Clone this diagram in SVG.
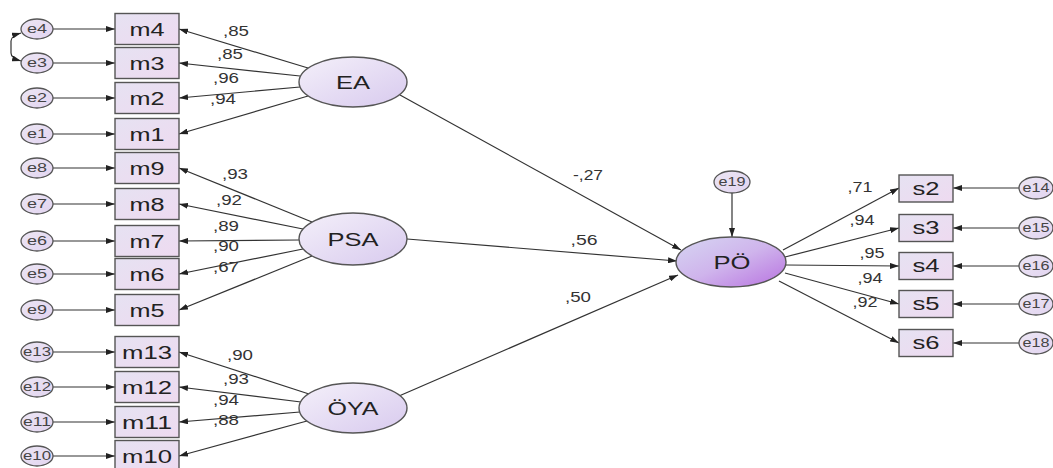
<svg xmlns="http://www.w3.org/2000/svg" width="1053" height="468" viewBox="0 0 1053 468">
<style>
text{font-family:"Liberation Sans",Arial,sans-serif;fill:#222;text-anchor:middle}
.box{fill:url(#gBox);stroke:#555;stroke-width:1.4}
.err{fill:url(#gErr);stroke:#555;stroke-width:1.3}
.lat{fill:url(#gLat);stroke:#555;stroke-width:1.4}
.bl{font-size:18px}
.ll{font-size:18px}
.el{font-size:12px;fill:#444}
.cf{font-size:14px;fill:#333}
.c{stroke:#333;stroke-width:1.2;fill:none;marker-end:url(#ah)}
</style>
<defs>
<linearGradient id="gBox" x1="0" y1="0" x2="1" y2="1"><stop offset="0" stop-color="#e6e2f2"/><stop offset="1" stop-color="#eedaf0"/></linearGradient>
<linearGradient id="gErr" x1="0" y1="0" x2="1" y2="1"><stop offset="0" stop-color="#ece6f4"/><stop offset="1" stop-color="#e2d4f0"/></linearGradient>
<linearGradient id="gLat" x1="0" y1="0" x2="1" y2="1"><stop offset="0" stop-color="#f4f0fa"/><stop offset="1" stop-color="#d8caee"/></linearGradient>
<linearGradient id="gPO" x1="0" y1="0" x2="1" y2="1"><stop offset="0" stop-color="#d6d6f2"/><stop offset="0.5" stop-color="#cfb4ec"/><stop offset="1" stop-color="#b872e0"/></linearGradient>
<marker id="ah" markerUnits="userSpaceOnUse" markerWidth="9" markerHeight="6" refX="9" refY="3" orient="auto-start-reverse"><path d="M0,0 L9,3 L0,6 z" fill="#222"/></marker>
</defs>
<rect width="1053" height="468" fill="#fff"/>

<g id="connectors">
<!-- error to left indicators -->
<path class="c" d="M53,29 H115"/>
<path class="c" d="M53,63 H115"/>
<path class="c" d="M53,98 H115"/>
<path class="c" d="M53,134 H115"/>
<path class="c" d="M53,168 H115"/>
<path class="c" d="M53,204 H115"/>
<path class="c" d="M53,241 H115"/>
<path class="c" d="M53,274 H115"/>
<path class="c" d="M53,310 H115"/>
<path class="c" d="M53,352 H115"/>
<path class="c" d="M53,387 H115"/>
<path class="c" d="M53,422 H115"/>
<path class="c" d="M53,456 H115"/>
<!-- covariance e4-e3 -->
<path d="M21,33 Q11,36 11,41 V53 Q11,58 21,61" stroke="#333" stroke-width="1.2" fill="none" marker-start="url(#ah)" marker-end="url(#ah)"/>
<!-- EA loadings -->
<path class="c" d="M308,68 L179,29"/>
<path class="c" d="M300,76 L179,63"/>
<path class="c" d="M300,87 L179,98"/>
<path class="c" d="M308,96 L179,134"/>
<!-- PSA loadings -->
<path class="c" d="M312,222 L179,168"/>
<path class="c" d="M303,229 L179,204"/>
<path class="c" d="M299,240 L179,241"/>
<path class="c" d="M303,249 L179,274"/>
<path class="c" d="M312,256 L179,310"/>
<!-- OYA loadings -->
<path class="c" d="M309,394 L179,352"/>
<path class="c" d="M301,402 L179,387"/>
<path class="c" d="M300,412 L179,422"/>
<path class="c" d="M307,421 L179,456"/>
<!-- structural -->
<path class="c" d="M400,95 L681,250"/>
<path class="c" d="M407,239 L677,261"/>
<path class="c" d="M399,396 L678,275"/>
<path class="c" d="M732,193 V237"/>
<!-- PO loadings -->
<path class="c" d="M783,250 L899,188"/>
<path class="c" d="M785,257 L899,228"/>
<path class="c" d="M786,265 L899,266"/>
<path class="c" d="M785,273 L899,304"/>
<path class="c" d="M779,281 L899,343"/>
<!-- right errors -->
<path class="c" d="M1019,188 H953"/>
<path class="c" d="M1019,228 H953"/>
<path class="c" d="M1019,266 H953"/>
<path class="c" d="M1019,304 H953"/>
<path class="c" d="M1019,343 H953"/>
</g>

<g id="coef">
<text class="cf" x="236" y="36" textLength="26" lengthAdjust="spacingAndGlyphs">,85</text>
<text class="cf" x="230" y="59" textLength="26" lengthAdjust="spacingAndGlyphs">,85</text>
<text class="cf" x="226" y="83" textLength="26" lengthAdjust="spacingAndGlyphs">,96</text>
<text class="cf" x="223" y="104" textLength="26" lengthAdjust="spacingAndGlyphs">,94</text>
<text class="cf" x="235" y="179" textLength="26" lengthAdjust="spacingAndGlyphs">,93</text>
<text class="cf" x="229" y="205" textLength="26" lengthAdjust="spacingAndGlyphs">,92</text>
<text class="cf" x="226" y="231" textLength="26" lengthAdjust="spacingAndGlyphs">,89</text>
<text class="cf" x="226" y="251" textLength="26" lengthAdjust="spacingAndGlyphs">,90</text>
<text class="cf" x="226" y="272" textLength="26" lengthAdjust="spacingAndGlyphs">,67</text>
<text class="cf" x="240" y="360" textLength="26" lengthAdjust="spacingAndGlyphs">,90</text>
<text class="cf" x="236" y="384" textLength="26" lengthAdjust="spacingAndGlyphs">,93</text>
<text class="cf" x="226" y="405" textLength="26" lengthAdjust="spacingAndGlyphs">,94</text>
<text class="cf" x="226" y="425" textLength="26" lengthAdjust="spacingAndGlyphs">,88</text>
<text class="cf" x="588" y="180" textLength="30" lengthAdjust="spacingAndGlyphs">-,27</text>
<text class="cf" x="584" y="245" textLength="27" lengthAdjust="spacingAndGlyphs">,56</text>
<text class="cf" x="578" y="302" textLength="26" lengthAdjust="spacingAndGlyphs">,50</text>
<text class="cf" x="860" y="192" textLength="25" lengthAdjust="spacingAndGlyphs">,71</text>
<text class="cf" x="862" y="225" textLength="25" lengthAdjust="spacingAndGlyphs">,94</text>
<text class="cf" x="872" y="258" textLength="25" lengthAdjust="spacingAndGlyphs">,95</text>
<text class="cf" x="870" y="283" textLength="25" lengthAdjust="spacingAndGlyphs">,94</text>
<text class="cf" x="865" y="307" textLength="25" lengthAdjust="spacingAndGlyphs">,92</text>
</g>

<!-- left error terms -->
<g id="e4"><ellipse class="err" cx="37" cy="29" rx="16" ry="10"/><text class="el" x="37" y="33" textLength="20" lengthAdjust="spacingAndGlyphs">e4</text></g>
<g id="e3"><ellipse class="err" cx="37" cy="63" rx="16" ry="10"/><text class="el" x="37" y="67" textLength="20" lengthAdjust="spacingAndGlyphs">e3</text></g>
<g id="e2"><ellipse class="err" cx="37" cy="98" rx="16" ry="10"/><text class="el" x="37" y="102" textLength="20" lengthAdjust="spacingAndGlyphs">e2</text></g>
<g id="e1"><ellipse class="err" cx="37" cy="134" rx="16" ry="10"/><text class="el" x="37" y="138" textLength="20" lengthAdjust="spacingAndGlyphs">e1</text></g>
<g id="e8"><ellipse class="err" cx="37" cy="168" rx="16" ry="10"/><text class="el" x="37" y="172" textLength="20" lengthAdjust="spacingAndGlyphs">e8</text></g>
<g id="e7"><ellipse class="err" cx="37" cy="204" rx="16" ry="10"/><text class="el" x="37" y="208" textLength="20" lengthAdjust="spacingAndGlyphs">e7</text></g>
<g id="e6"><ellipse class="err" cx="37" cy="241" rx="16" ry="10"/><text class="el" x="37" y="245" textLength="20" lengthAdjust="spacingAndGlyphs">e6</text></g>
<g id="e5"><ellipse class="err" cx="37" cy="274" rx="16" ry="10"/><text class="el" x="37" y="278" textLength="20" lengthAdjust="spacingAndGlyphs">e5</text></g>
<g id="e9"><ellipse class="err" cx="37" cy="310" rx="16" ry="10"/><text class="el" x="37" y="314" textLength="20" lengthAdjust="spacingAndGlyphs">e9</text></g>
<g id="e13"><ellipse class="err" cx="37" cy="352" rx="16" ry="10"/><text class="el" x="37" y="356" textLength="28" lengthAdjust="spacingAndGlyphs">e13</text></g>
<g id="e12"><ellipse class="err" cx="37" cy="387" rx="16" ry="10"/><text class="el" x="37" y="391" textLength="28" lengthAdjust="spacingAndGlyphs">e12</text></g>
<g id="e11"><ellipse class="err" cx="37" cy="422" rx="16" ry="10"/><text class="el" x="37" y="426" textLength="28" lengthAdjust="spacingAndGlyphs">e11</text></g>
<g id="e10"><ellipse class="err" cx="37" cy="456" rx="16" ry="10"/><text class="el" x="37" y="460" textLength="28" lengthAdjust="spacingAndGlyphs">e10</text></g>

<!-- left indicators -->
<g id="m4"><rect class="box" x="115" y="13.5" width="64" height="31"/><text class="bl" x="147" y="35.5" textLength="35" lengthAdjust="spacingAndGlyphs">m4</text></g>
<g id="m3"><rect class="box" x="115" y="47.5" width="64" height="31"/><text class="bl" x="147" y="69.5" textLength="35" lengthAdjust="spacingAndGlyphs">m3</text></g>
<g id="m2"><rect class="box" x="115" y="82.5" width="64" height="31"/><text class="bl" x="147" y="104.5" textLength="35" lengthAdjust="spacingAndGlyphs">m2</text></g>
<g id="m1"><rect class="box" x="115" y="118.5" width="64" height="31"/><text class="bl" x="147" y="140.5" textLength="35" lengthAdjust="spacingAndGlyphs">m1</text></g>
<g id="m9"><rect class="box" x="115" y="152.5" width="64" height="31"/><text class="bl" x="147" y="174.5" textLength="35" lengthAdjust="spacingAndGlyphs">m9</text></g>
<g id="m8"><rect class="box" x="115" y="188.5" width="64" height="31"/><text class="bl" x="147" y="210.5" textLength="35" lengthAdjust="spacingAndGlyphs">m8</text></g>
<g id="m7"><rect class="box" x="115" y="225.5" width="64" height="31"/><text class="bl" x="147" y="247.5" textLength="35" lengthAdjust="spacingAndGlyphs">m7</text></g>
<g id="m6"><rect class="box" x="115" y="258.5" width="64" height="31"/><text class="bl" x="147" y="280.5" textLength="35" lengthAdjust="spacingAndGlyphs">m6</text></g>
<g id="m5"><rect class="box" x="115" y="294.5" width="64" height="31"/><text class="bl" x="147" y="316.5" textLength="35" lengthAdjust="spacingAndGlyphs">m5</text></g>
<g id="m13"><rect class="box" x="115" y="336.5" width="64" height="31"/><text class="bl" x="147" y="358.5" textLength="50" lengthAdjust="spacingAndGlyphs">m13</text></g>
<g id="m12"><rect class="box" x="115" y="371.5" width="64" height="31"/><text class="bl" x="147" y="393.5" textLength="50" lengthAdjust="spacingAndGlyphs">m12</text></g>
<g id="m11"><rect class="box" x="115" y="406.5" width="64" height="31"/><text class="bl" x="147" y="428.5" textLength="50" lengthAdjust="spacingAndGlyphs">m11</text></g>
<g id="m10"><rect class="box" x="115" y="440.5" width="64" height="31"/><text class="bl" x="147" y="462.5" textLength="50" lengthAdjust="spacingAndGlyphs">m10</text></g>

<!-- latent variables -->
<g id="EA"><ellipse class="lat" cx="353" cy="82" rx="54" ry="25"/><text class="ll" x="353" y="88.5" textLength="34" lengthAdjust="spacingAndGlyphs">EA</text></g>
<g id="PSA"><ellipse class="lat" cx="353" cy="239" rx="54" ry="26"/><text class="ll" x="353" y="245.5" textLength="51" lengthAdjust="spacingAndGlyphs">PSA</text></g>
<g id="OYA"><ellipse class="lat" cx="353" cy="408" rx="54" ry="25"/><text class="ll" x="353" y="414.5" textLength="51" lengthAdjust="spacingAndGlyphs">ÖYA</text></g>
<g id="PO"><ellipse cx="731" cy="262" rx="55" ry="25" fill="url(#gPO)" stroke="#555" stroke-width="1.4"/><text class="ll" x="732" y="268.5" textLength="37" lengthAdjust="spacingAndGlyphs">PÖ</text></g>
<g id="e19"><ellipse class="err" cx="732" cy="182" rx="18" ry="11"/><text class="el" x="732" y="186" textLength="27" lengthAdjust="spacingAndGlyphs">e19</text></g>

<!-- right indicators -->
<g id="s2"><rect class="box" x="899" y="175" width="54" height="27"/><text class="bl" x="926" y="194.5" textLength="27" lengthAdjust="spacingAndGlyphs">s2</text></g>
<g id="s3"><rect class="box" x="899" y="214.5" width="54" height="27"/><text class="bl" x="926" y="234" textLength="27" lengthAdjust="spacingAndGlyphs">s3</text></g>
<g id="s4"><rect class="box" x="899" y="252.5" width="54" height="27"/><text class="bl" x="926" y="272" textLength="27" lengthAdjust="spacingAndGlyphs">s4</text></g>
<g id="s5"><rect class="box" x="899" y="290.5" width="54" height="27"/><text class="bl" x="926" y="310" textLength="27" lengthAdjust="spacingAndGlyphs">s5</text></g>
<g id="s6"><rect class="box" x="899" y="329.5" width="54" height="27"/><text class="bl" x="926" y="349" textLength="27" lengthAdjust="spacingAndGlyphs">s6</text></g>

<!-- right error terms -->
<g id="e14"><ellipse class="err" cx="1036" cy="188" rx="17" ry="11"/><text class="el" x="1036" y="192" textLength="27" lengthAdjust="spacingAndGlyphs">e14</text></g>
<g id="e15"><ellipse class="err" cx="1036" cy="228" rx="17" ry="11"/><text class="el" x="1036" y="232" textLength="27" lengthAdjust="spacingAndGlyphs">e15</text></g>
<g id="e16"><ellipse class="err" cx="1036" cy="266" rx="17" ry="11"/><text class="el" x="1036" y="270" textLength="27" lengthAdjust="spacingAndGlyphs">e16</text></g>
<g id="e17"><ellipse class="err" cx="1036" cy="304" rx="17" ry="11"/><text class="el" x="1036" y="308" textLength="27" lengthAdjust="spacingAndGlyphs">e17</text></g>
<g id="e18"><ellipse class="err" cx="1036" cy="343" rx="17" ry="11"/><text class="el" x="1036" y="347" textLength="27" lengthAdjust="spacingAndGlyphs">e18</text></g>
</svg>
